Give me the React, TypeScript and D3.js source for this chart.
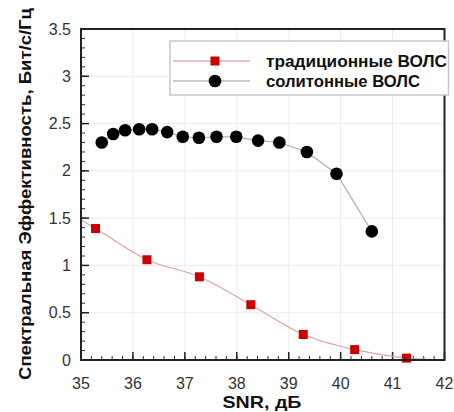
import React from "react";
import * as d3 from "d3";

const tradX = [35.28, 36.27, 37.28, 38.27, 39.28, 40.27, 41.27];
const tradY = [1.39, 1.06, 0.88, 0.585, 0.27, 0.11, 0.02];
const tradLineX = [35.0, 35.28, 36.27, 37.28, 38.27, 39.28, 40.27, 41.27, 42.0];
const tradLineY = [1.48, 1.39, 1.06, 0.88, 0.585, 0.27, 0.11, 0.02, 0.0];
const solX = [35.4, 35.62, 35.85, 36.12, 36.37, 36.66, 36.96, 37.27, 37.61, 37.99, 38.41, 38.82, 39.35, 39.92, 40.6];
const solY = [2.3, 2.39, 2.43, 2.44, 2.44, 2.41, 2.36, 2.35, 2.36, 2.36, 2.32, 2.3, 2.2, 1.97, 1.36];
const xTicks = [35, 36, 37, 38, 39, 40, 41, 42];
const yTicks = [0, 0.5, 1, 1.5, 2, 2.5, 3, 3.5];
const legendLabels = ["традиционные ВОЛС", "солитонные ВОЛС"];

const W = 454, H = 412;
const L = 81, R = 444.5, T = 29, B = 360;

export default function App() {
  const x = d3.scaleLinear().domain([35, 42]).range([L, R]);
  const y = d3.scaleLinear().domain([0, 3.5]).range([B, T]);
  const xMinor = d3.range(35, 42.001, 0.2);
  const yMinor = d3.range(0, 3.5001, 0.1);
  const tradLine = d3.line<number>().x((_, i) => x(tradLineX[i])).y((_, i) => y(tradLineY[i])).curve(d3.curveMonotoneX);
  const solLine = d3.line<number>().x((_, i) => x(solX[i])).y((_, i) => y(solY[i]));
  const font = "Arial, 'Liberation Sans', sans-serif";
  return (
    <svg width={W} height={H} style={{ position: "absolute", left: 0, top: 0, background: "#fff" }} fontFamily={font}>
      <rect width={W} height={H} fill="#fff" />
      {xTicks.slice(1, -1).map((t) => (
        <line key={"gx" + t} x1={x(t)} x2={x(t)} y1={T} y2={B} stroke="#ececec" strokeWidth={1} />
      ))}
      {yTicks.slice(1, -1).map((t) => (
        <line key={"gy" + t} x1={L} x2={R} y1={y(t)} y2={y(t)} stroke="#ececec" strokeWidth={1} />
      ))}
      {xMinor.map((t, i) => (
        <line key={"mx" + i} x1={x(t)} x2={x(t)} y1={B} y2={B - 4} stroke="#333" strokeWidth={1} />
      ))}
      {yMinor.map((t, i) => (
        <line key={"my" + i} x1={L} x2={L + 4} y1={y(t)} y2={y(t)} stroke="#333" strokeWidth={1} />
      ))}
      {xTicks.map((t) => (
        <line key={"tx" + t} x1={x(t)} x2={x(t)} y1={B} y2={B - 8} stroke="#222" strokeWidth={1.5} />
      ))}
      {yTicks.map((t) => (
        <line key={"ty" + t} x1={L} x2={L + 8} y1={y(t)} y2={y(t)} stroke="#222" strokeWidth={1.5} />
      ))}
      <path d={tradLine(tradLineX) || ""} fill="none" stroke="#e0a0a8" strokeWidth={1.2} />
      <path d={solLine(solX) || ""} fill="none" stroke="#b0b0b0" strokeWidth={1.2} />
      {tradX.map((v, i) => (
        <rect key={"r" + i} x={x(v) - 4.5} y={y(tradY[i]) - 4.5} width={9} height={9} fill="#cc0000" />
      ))}
      {solX.map((v, i) => (
        <circle key={"c" + i} cx={x(v)} cy={y(solY[i])} r={6.3} fill="#000" />
      ))}
      <rect x={L} y={T} width={R - L} height={B - T} fill="none" stroke="#222" strokeWidth={2} />
      <rect x={170} y={41} width={R - 170 + 4} height={54} fill="#fff" stroke="#c8c8c8" strokeWidth={1.5} />
      <line x1={173} x2={250} y1={61} y2={61} stroke="#e08080" strokeWidth={1} />
      <rect x={215 - 4.5} y={61 - 4.5} width={9} height={9} fill="#cc0000" />
      <line x1={173} x2={250} y1={81} y2={81} stroke="#999" strokeWidth={1} />
      <circle cx={215} cy={81} r={6.3} fill="#000" />
      <text x={266} y={66.5} fontSize={16} fontWeight="bold" fill="#111" textLength={181} lengthAdjust="spacingAndGlyphs">{legendLabels[0]}</text>
      <text x={266} y={86.5} fontSize={16} fontWeight="bold" fill="#111" textLength={154} lengthAdjust="spacingAndGlyphs">{legendLabels[1]}</text>
      {xTicks.map((t) => (
        <text key={"lx" + t} x={x(t)} y={389} fontSize={16} textAnchor="middle" fill="#333">{t}</text>
      ))}
      {yTicks.map((t) => (
        <text key={"ly" + t} x={71} y={y(t) + 5.5} fontSize={16} textAnchor="end" fill="#333">{t}</text>
      ))}
      <text x={262} y={408} fontSize={17} fontWeight="bold" textAnchor="middle" fill="#111" textLength={79} lengthAdjust="spacingAndGlyphs">SNR, дБ</text>
      <text transform={`translate(31, ${194}) rotate(-90)`} fontSize={17} fontWeight="bold" textAnchor="middle" fill="#111" textLength={372} lengthAdjust="spacingAndGlyphs">
        Спектральная Эффективность, Бит/с/Гц
      </text>
    </svg>
  );
}
